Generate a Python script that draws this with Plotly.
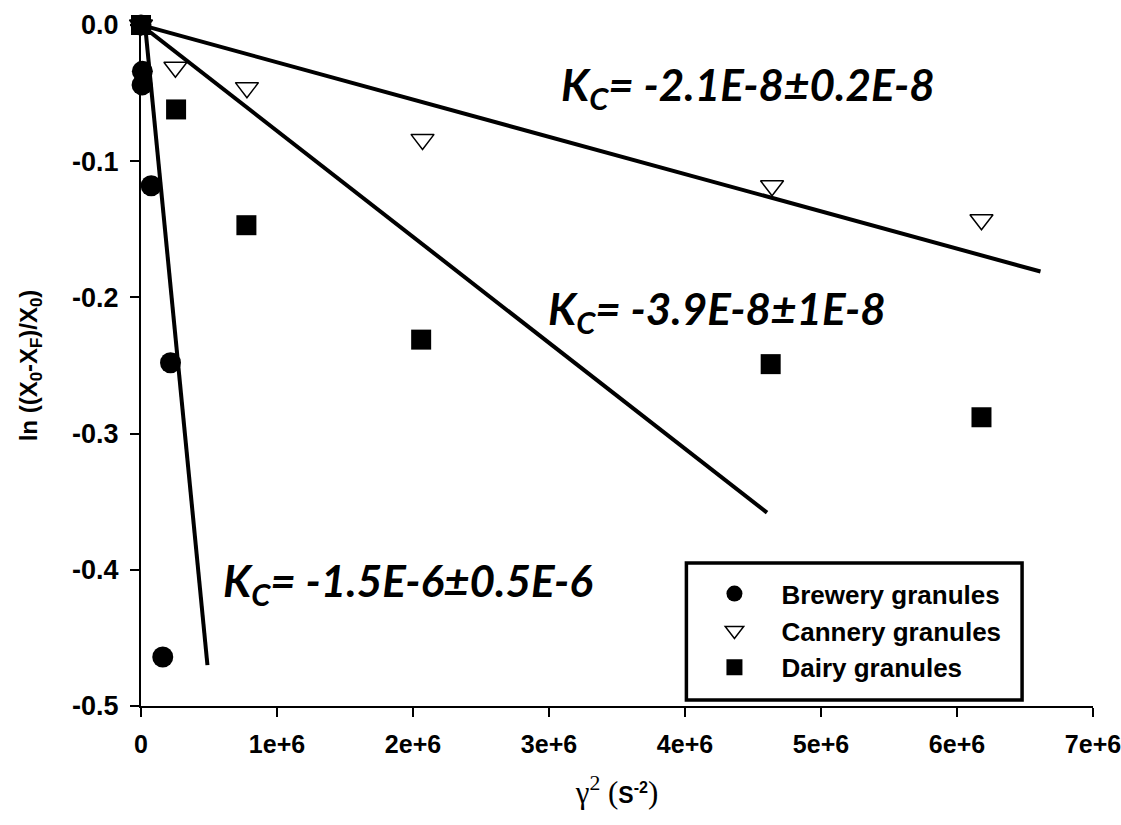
import plotly.graph_objects as go

# Shear-rate squared (s^-2) and ln((X0-XF)/X0) for each granule type
brewery_x = [0, 10000, 8000, 75000, 217000, 160000]
brewery_y = [0.0, -0.034, -0.044, -0.118, -0.248, -0.464]

cannery_x = [0, 253000, 779000, 2070000, 4640000, 6180000]
cannery_y = [0.0, -0.031, -0.046, -0.084, -0.118, -0.143]

dairy_x = [0, 258000, 775000, 2060000, 4630000, 6180000]
dairy_y = [0.0, -0.062, -0.147, -0.231, -0.249, -0.288]

# Fitted lines (start / end points)
fit_cannery_x = [0, 6614000]
fit_cannery_y = [0.0, -0.181]
fit_dairy_x = [0, 4603000]
fit_dairy_y = [0.0, -0.358]
fit_brewery_x = [30000, 488600]
fit_brewery_y = [0.0, -0.470]

# Fit labels
kc_labels = [
    ("K<sub>C</sub>= -2.1E-8±0.2E-8", 3075000, -0.046),
    ("K<sub>C</sub>= -3.9E-8±1E-8", 2980000, -0.210),
    ("K<sub>C</sub>= -1.5E-6±0.5E-6", 590000, -0.410),
]

x_ticks = [0, 1e6, 2e6, 3e6, 4e6, 5e6, 6e6, 7e6]
x_tick_text = ["0", "1e+6", "2e+6", "3e+6", "4e+6", "5e+6", "6e+6", "7e+6"]
y_ticks = [0.0, -0.1, -0.2, -0.3, -0.4, -0.5]
y_tick_text = ["0.0", "-0.1", "-0.2", "-0.3", "-0.4", "-0.5"]

SANS = "Liberation Sans"
SERIF = "font-family:Liberation Serif;font-weight:normal;font-size:31px"

fig = go.Figure()

line_style = dict(color="black", width=4)
for fx, fy in [(fit_cannery_x, fit_cannery_y), (fit_dairy_x, fit_dairy_y),
               (fit_brewery_x, fit_brewery_y)]:
    fig.add_trace(go.Scatter(x=fx, y=fy, mode="lines", line=line_style,
                             showlegend=False, hoverinfo="skip", cliponaxis=False))

fig.add_trace(go.Scatter(
    x=brewery_x, y=brewery_y, mode="markers", name="Brewery granules",
    legendgroup="a",
    marker=dict(symbol="circle", size=21, color="black"), cliponaxis=False))
fig.add_trace(go.Scatter(
    x=cannery_x, y=cannery_y, mode="markers", name="Cannery granules",
    legendgroup="b",
    marker=dict(symbol="triangle-down", size=20, color="white",
                line=dict(color="black", width=1.5)), cliponaxis=False))
fig.add_trace(go.Scatter(
    x=dairy_x, y=dairy_y, mode="markers", name="Dairy granules",
    legendgroup="c",
    marker=dict(symbol="square", size=20, color="black"), cliponaxis=False))

for text, ax, ay in kc_labels:
    fig.add_annotation(x=ax, y=ay, xref="x", yref="y", text=text, showarrow=False,
                       xanchor="left", yanchor="middle",
                       font=dict(family="Lato", size=44, color="black",
                                 weight="bold", style="italic"))

# Legend frame
fig.add_shape(type="rect", xref="paper", yref="paper",
              x0=0.5729, x1=0.9255, y0=0.0088, y1=0.21,
              line=dict(color="black", width=3.5), layer="above")

fig.update_layout(
    width=1121, height=825,
    margin=dict(l=141, r=28, t=25, b=119, autoexpand=False),
    plot_bgcolor="white", paper_bgcolor="white",
    showlegend=True,
    legend=dict(
        x=0.574, y=0.1994, xanchor="left", yanchor="top",
        borderwidth=0, bgcolor="rgba(0,0,0,0)",
        font=dict(family=SANS, size=26, color="black", weight="bold"),
        tracegroupgap=0, itemwidth=84,
    ),
    xaxis=dict(
        range=[0, 7e6], showgrid=False, zeroline=False, automargin=False,
        showline=True, linecolor="black", linewidth=2,
        ticks="outside", ticklen=9, tickwidth=2, tickcolor="black",
        tickvals=x_ticks, ticktext=x_tick_text, ticklabelstandoff=6,
        ticklabeloverflow="allow",
        tickfont=dict(family=SANS, size=25, color="black", weight="bold"),
        title=dict(
            text=(f"<span style='{SERIF}'>γ<sup>2</sup> (</span><b>S</b><sup>-2</sup>"
                  f"<span style='{SERIF}'>)</span>"),
            font=dict(family=SANS, size=23, color="black", weight="bold"),
            standoff=30),
    ),
    yaxis=dict(
        range=[-0.5, 0], showgrid=False, zeroline=False, automargin=False,
        showline=True, linecolor="black", linewidth=2,
        ticks="outside", ticklen=9, tickwidth=2, tickcolor="black",
        tickvals=y_ticks, ticktext=y_tick_text, ticklabelstandoff=6,
        tickfont=dict(family=SANS, size=27, color="black", weight="bold"),
        title=dict(
            text="ln ((X<sub>0</sub>-X<sub>F</sub>)/X<sub>0</sub>)",
            font=dict(family=SANS, size=24, color="black", weight="bold"),
            standoff=28),
    ),
)

fig.write_html("out.html")
